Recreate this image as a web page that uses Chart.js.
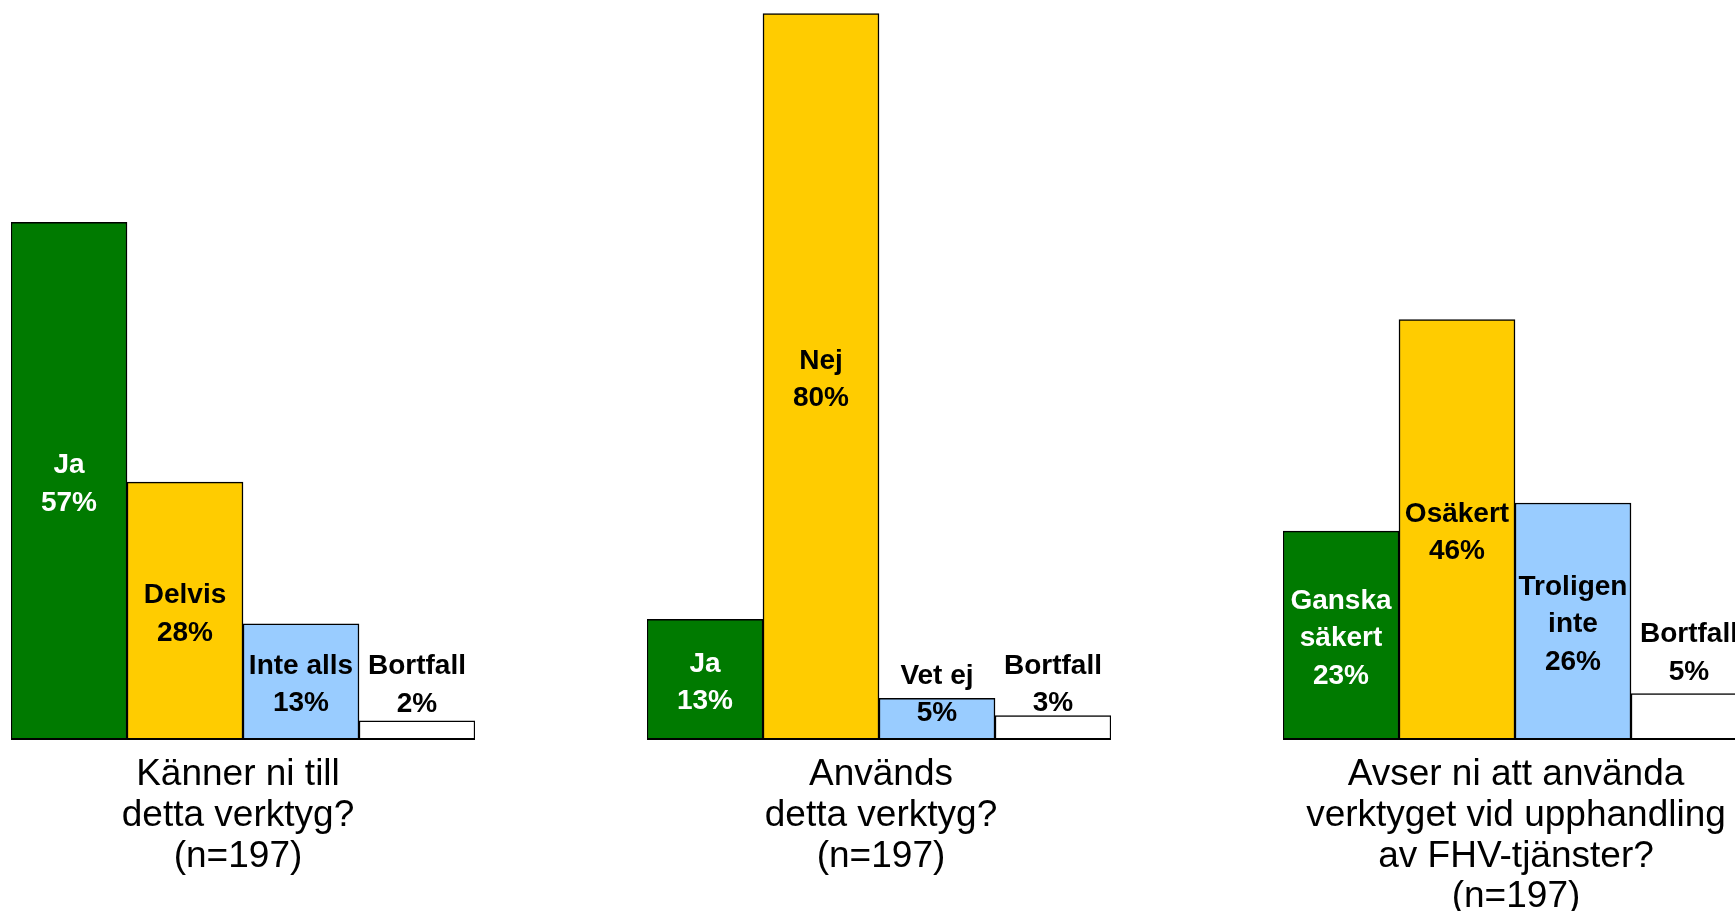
<!DOCTYPE html>
<html>
<head>
<meta charset="utf-8">
<script src="https://cdn.jsdelivr.net/npm/chart.js@4.4.1/dist/chart.umd.min.js"></script>
<style>
  html, body { margin: 0; padding: 0; background: #ffffff; width: 1735px; height: 911px; overflow: hidden; }
  .wrap { position: absolute; top: 0; height: 911px; width: 464px; }
</style>
</head>
<body>
<div class="wrap" id="w1" style="left:11px"><canvas id="c1" width="464" height="911"></canvas></div>
<div class="wrap" id="w2" style="left:647px"><canvas id="c2" width="464" height="911"></canvas></div>
<div class="wrap" id="w3" style="left:1283px"><canvas id="c3" width="464" height="911"></canvas></div>
<script>
// ---- data ----
const categories1 = ['Ja', 'Delvis', 'Inte alls', 'Bortfall'];
const values1 = [57, 28.4, 12.8, 2.1];
const title1 = ['Känner ni till', 'detta verktyg?', '(n=197)'];

const categories2 = ['Ja', 'Nej', 'Vet ej', 'Bortfall'];
const values2 = [13.3, 80, 4.6, 2.7];
const title2 = ['Används', 'detta verktyg?', '(n=197)'];

const categories3 = ['Ganska\nsäkert', 'Osäkert', 'Troligen\ninte', 'Bortfall'];
const values3 = [23, 46.3, 26.1, 5.1];
const title3 = ['Avser ni att använda', 'verktyget vid upphandling', 'av FHV-tjänster?', '(n=197)'];

// ---- style ----
const barColors = ['#007A00', '#FFCC00', '#99CCFF', '#FFFFFF'];
const labelColors = ['#FFFFFF', '#000000', '#000000', '#000000'];
const labelNudge1 = [0, 0, 0, 0];
const labelNudge2 = [0, 0, 32, 5];
const labelNudge3 = [0, 0, 0, -5];
const FONT = '"Liberation Sans", Arial, Helvetica, sans-serif';
const LABEL_LH = 37.6;
const TITLE_LH = 40.7;

const labelPlugin = {
  id: 'barLabels',
  afterDatasetsDraw(chart, args, opts) {
    const ctx = chart.ctx;
    const area = chart.chartArea;
    const meta = chart.getDatasetMeta(0);
    const cats = chart.data.labels;
    const vals = chart.data.datasets[0].data;
    ctx.save();
    // baseline
    ctx.strokeStyle = '#000';
    ctx.lineWidth = 2;
    ctx.beginPath();
    ctx.moveTo(area.left, area.bottom - 1);
    ctx.lineTo(area.right, area.bottom - 1);
    ctx.stroke();
    // bar labels
    ctx.font = 'bold 28px ' + FONT;
    ctx.textAlign = 'center';
    ctx.textBaseline = 'middle';
    meta.data.forEach((bar, i) => {
      const lines = String(cats[i]).split('\n').concat([Math.round(vals[i]) + '%']);
      const blockH = lines.length * LABEL_LH;
      const barH = bar.base - bar.y;
      let cy = barH >= blockH ? (bar.y + bar.base) / 2 + 3 : bar.y - blockH / 2 + 2;
      cy += opts.nudge[i] || 0;
      ctx.fillStyle = labelColors[i];
      lines.forEach((ln, j) => {
        ctx.fillText(ln, bar.x, cy + (j - (lines.length - 1) / 2) * LABEL_LH);
      });
    });
    // category title
    ctx.font = '37px ' + FONT;
    ctx.fillStyle = '#000';
    const cx = (area.left + area.right) / 2 + opts.titleShift;
    opts.title.forEach((ln, j) => {
      ctx.fillText(ln, cx, area.bottom + 35 + j * TITLE_LH);
    });
    ctx.restore();
  }
};

function makeChart(id, cats, vals, title, nudge, titleShift) {
  return new Chart(document.getElementById(id), {
    type: 'bar',
    data: {
      labels: cats,
      datasets: [{
        data: vals,
        backgroundColor: barColors,
        borderColor: '#000000',
        borderWidth: 1.5,
        borderSkipped: false,
        barPercentage: 1,
        categoryPercentage: 1
      }]
    },
    options: {
      responsive: false,
      animation: false,
      layout: { padding: { left: 0, right: 0, top: 0, bottom: 171 } },
      plugins: {
        legend: { display: false },
        tooltip: { enabled: false },
        barLabels: { title: title, nudge: nudge, titleShift: titleShift }
      },
      scales: {
        x: { display: false },
        y: { display: false, min: 0, max: 81.5 }
      }
    },
    plugins: [labelPlugin]
  });
}

makeChart('c1', categories1, values1, title1, labelNudge1, -5);
makeChart('c2', categories2, values2, title2, labelNudge2, 2);
makeChart('c3', categories3, values3, title3, labelNudge3, 1);
</script>
</body>
</html>
